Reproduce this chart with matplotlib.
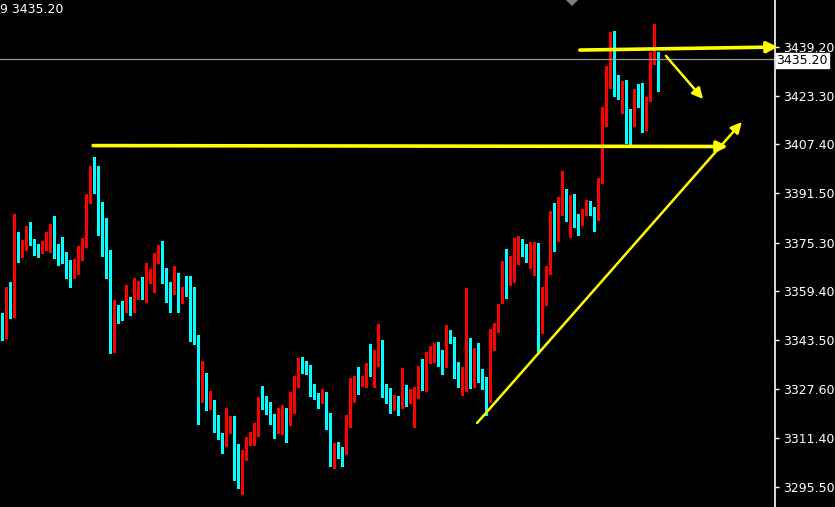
import matplotlib
matplotlib.use("Agg")
import matplotlib.pyplot as plt
from matplotlib.patches import Polygon

# hourly candles (oldest first)
opens = [
    3351.0, 3346.1, 3358.9, 3352.3, 3377.2, 3371.3, 3374.2, 3379.1, 3375.8, 3373.2,
    3372.9, 3372.9, 3377.5, 3380.1, 3373.6, 3370.6, 3369.6, 3368.3, 3363.8, 3365.4,
    3370.6, 3374.5, 3388.9, 3399.7, 3392.2, 3383.4, 3378.1, 3367.7, 3344.5, 3354.3,
    3354.0, 3353.3, 3357.2, 3353.3, 3358.9, 3361.8, 3359.2, 3363.4, 3362.8, 3369.3,
    3373.9, 3366.0, 3360.8, 3359.2, 3365.4, 3356.9, 3360.8, 3358.5, 3353.3, 3343.2,
    3325.5, 3332.1, 3322.6, 3323.6, 3317.7, 3312.5, 3311.5, 3314.4, 3318.0, 3305.6,
    3295.5, 3305.0, 3309.9, 3311.5, 3314.4, 3324.2, 3323.9, 3319.7, 3318.4, 3314.4,
    3317.4, 3320.0, 3318.7, 3320.3, 3328.5, 3337.6, 3333.4, 3333.1, 3326.9, 3325.9,
    3322.9, 3326.5, 3316.4, 3305.6, 3308.9, 3307.3, 3306.6, 3317.1, 3324.9, 3329.8,
    3328.8, 3329.1, 3335.0, 3333.1, 3336.7, 3343.2, 3328.5, 3326.5, 3321.3, 3324.5,
    3321.3, 3328.5, 3322.9, 3324.2, 3328.2, 3332.4, 3328.2, 3338.0, 3338.9, 3341.2,
    3339.3, 3336.7, 3345.8, 3344.5, 3333.4, 3329.5, 3332.7, 3336.3, 3329.5, 3337.3,
    3333.1, 3329.8, 3323.6, 3343.2, 3346.1, 3356.6, 3368.7, 3364.7, 3365.4, 3370.6,
    3374.5, 3373.2, 3370.0, 3374.2, 3374.9, 3345.8, 3356.2, 3365.1, 3382.4, 3378.8,
    3387.6, 3391.8, 3383.4, 3385.6, 3383.7, 3382.0, 3385.3, 3388.3, 3386.3, 3382.7,
    3395.4, 3416.3, 3427.1, 3441.2, 3425.2, 3424.8, 3426.1, 3416.0, 3414.4, 3424.2,
    3424.2, 3415.7, 3421.9, 3436.9, 3436.9,
]
highs = [
    3352.3, 3360.8, 3362.5, 3384.7, 3378.8, 3376.2, 3380.7, 3382.0, 3376.5, 3374.9,
    3375.8, 3378.8, 3381.4, 3384.0, 3374.9, 3377.2, 3372.3, 3369.6, 3370.0, 3374.2,
    3376.8, 3391.2, 3400.3, 3403.3, 3400.3, 3388.6, 3383.4, 3372.9, 3356.6, 3354.9,
    3356.2, 3361.5, 3357.6, 3363.8, 3362.8, 3364.1, 3368.7, 3366.7, 3371.9, 3374.5,
    3375.8, 3367.0, 3362.5, 3367.7, 3365.4, 3360.8, 3364.4, 3364.4, 3360.8, 3345.1,
    3336.7, 3332.7, 3326.9, 3323.9, 3319.0, 3313.1, 3321.3, 3318.7, 3318.7, 3309.5,
    3307.6, 3311.8, 3313.5, 3316.4, 3324.9, 3328.5, 3325.2, 3323.3, 3319.3, 3321.3,
    3322.3, 3321.3, 3326.5, 3331.8, 3337.6, 3338.0, 3336.7, 3335.3, 3329.1, 3326.2,
    3327.5, 3326.5, 3319.7, 3309.9, 3310.2, 3308.6, 3319.0, 3331.1, 3331.8, 3334.7,
    3331.8, 3336.0, 3342.2, 3340.2, 3348.7, 3343.5, 3329.1, 3327.8, 3325.5, 3325.2,
    3334.4, 3328.8, 3327.5, 3328.2, 3335.0, 3337.3, 3339.6, 3341.6, 3342.5, 3342.9,
    3340.2, 3348.4, 3346.8, 3344.5, 3336.3, 3334.7, 3360.5, 3344.2, 3340.9, 3342.5,
    3334.0, 3331.4, 3347.1, 3349.1, 3355.3, 3369.3, 3373.2, 3370.9, 3376.8, 3377.5,
    3376.5, 3374.9, 3375.5, 3375.5, 3375.2, 3360.8, 3367.7, 3385.6, 3388.3, 3390.2,
    3398.7, 3392.8, 3390.9, 3391.2, 3384.7, 3386.3, 3389.2, 3388.9, 3386.9, 3396.4,
    3419.6, 3433.0, 3444.1, 3444.4, 3430.1, 3428.1, 3428.4, 3419.0, 3425.5, 3427.1,
    3427.4, 3422.9, 3437.6, 3446.7, 3437.6,
]
lows = [
    3343.5, 3344.2, 3350.7, 3351.0, 3369.0, 3370.6, 3372.9, 3374.5, 3371.3, 3370.6,
    3371.9, 3372.9, 3372.3, 3370.3, 3368.0, 3368.7, 3363.8, 3360.8, 3363.8, 3365.1,
    3369.6, 3373.9, 3388.3, 3391.5, 3377.8, 3370.9, 3363.8, 3339.3, 3339.6, 3349.1,
    3350.0, 3352.7, 3351.7, 3352.7, 3356.9, 3356.9, 3355.9, 3362.1, 3359.2, 3368.7,
    3362.1, 3355.9, 3352.7, 3358.5, 3352.7, 3355.6, 3357.9, 3343.2, 3342.2, 3316.1,
    3323.3, 3320.6, 3321.0, 3313.5, 3311.2, 3306.6, 3308.9, 3313.1, 3297.8, 3295.2,
    3293.2, 3304.3, 3309.2, 3309.2, 3312.2, 3321.0, 3319.3, 3316.1, 3311.5, 3313.1,
    3312.8, 3310.2, 3315.7, 3319.7, 3328.2, 3332.7, 3332.4, 3325.2, 3324.2, 3321.3,
    3322.9, 3314.4, 3302.4, 3301.7, 3305.0, 3302.4, 3306.3, 3315.1, 3323.3, 3325.9,
    3328.5, 3328.2, 3331.8, 3328.2, 3335.0, 3324.9, 3322.9, 3319.7, 3320.6, 3319.0,
    3321.3, 3322.0, 3322.9, 3315.1, 3324.5, 3327.2, 3326.9, 3336.0, 3336.3, 3335.0,
    3332.4, 3334.7, 3342.5, 3331.1, 3328.2, 3325.5, 3326.9, 3327.8, 3328.2, 3329.8,
    3327.5, 3319.0, 3323.3, 3340.2, 3346.1, 3355.6, 3357.2, 3361.5, 3362.5, 3368.3,
    3370.9, 3369.0, 3367.0, 3364.7, 3339.3, 3345.8, 3354.9, 3365.1, 3372.6, 3375.8,
    3384.3, 3382.4, 3377.2, 3380.4, 3377.8, 3381.1, 3384.3, 3384.3, 3379.1, 3382.7,
    3394.8, 3413.4, 3425.8, 3423.2, 3422.2, 3417.6, 3407.9, 3407.5, 3413.4, 3419.6,
    3411.4, 3412.1, 3421.6, 3433.6, 3424.8,
]
closes = [
    3346.1, 3358.9, 3352.3, 3377.2, 3371.3, 3374.9, 3379.1, 3375.5, 3373.2, 3371.9,
    3374.2, 3377.8, 3380.1, 3373.2, 3370.3, 3369.3, 3368.0, 3363.8, 3365.7, 3371.3,
    3374.9, 3389.2, 3399.7, 3391.8, 3383.0, 3377.8, 3367.4, 3344.5, 3354.0, 3353.6,
    3353.3, 3357.2, 3352.3, 3359.2, 3361.8, 3359.2, 3363.8, 3364.1, 3369.6, 3373.9,
    3365.7, 3360.8, 3359.2, 3365.4, 3356.6, 3360.8, 3358.2, 3353.0, 3342.9, 3325.5,
    3332.1, 3322.3, 3323.6, 3317.1, 3311.8, 3309.5, 3314.8, 3318.0, 3305.0, 3295.5,
    3305.6, 3310.5, 3311.8, 3314.4, 3324.2, 3323.6, 3319.7, 3318.0, 3314.4, 3317.4,
    3319.7, 3318.7, 3320.6, 3328.5, 3337.3, 3333.1, 3332.7, 3326.5, 3324.9, 3322.9,
    3326.5, 3316.1, 3305.6, 3308.9, 3306.9, 3306.6, 3317.4, 3325.2, 3329.8, 3328.8,
    3329.5, 3335.0, 3333.1, 3337.0, 3343.2, 3328.2, 3326.2, 3321.3, 3324.5, 3321.3,
    3328.5, 3322.0, 3324.5, 3327.8, 3332.4, 3328.2, 3338.0, 3339.3, 3341.9, 3339.3,
    3336.7, 3345.8, 3344.5, 3333.4, 3329.5, 3333.1, 3336.3, 3329.1, 3337.3, 3332.7,
    3329.5, 3323.6, 3343.5, 3346.5, 3354.6, 3368.7, 3364.7, 3365.7, 3374.2, 3374.5,
    3372.9, 3370.0, 3374.2, 3374.9, 3345.8, 3356.6, 3365.4, 3382.4, 3378.8, 3388.3,
    3391.8, 3383.7, 3385.6, 3383.7, 3382.0, 3385.6, 3388.3, 3386.3, 3382.7, 3395.4,
    3416.3, 3427.4, 3441.2, 3424.8, 3424.8, 3426.1, 3415.7, 3414.4, 3424.2, 3423.9,
    3415.7, 3422.2, 3436.9, 3437.6, 3435.2,
]

price_ticks = [3439.20, 3423.30, 3407.40, 3391.50, 3375.30, 3359.40, 3343.50, 3327.60, 3311.40, 3295.50]
last_price = 3435.20
header_text = "9 3435.20"

# hand-drawn lines on the chart: (start bar, start price, end bar, end price)
level_line = (22.7, 3407.0, 181.4, 3406.7)
top_line = (144.4, 3438.2, 193.9, 3439.2)
down_arrow = (165.9, 3436.3, 175.2, 3422.2)
trend_line = (118.7, 3316.4, 184.9, 3414.7)

UP = "#ff0000"
DOWN = "#00ffff"


def main():
    fig = plt.figure(figsize=(8.35, 5.07), dpi=100, facecolor="black")
    ax = fig.add_axes([0, 0, 775 / 835, 1])
    ax.set_facecolor("black")

    xs = list(range(len(closes)))
    for x, o, h, l, c in zip(xs, opens, highs, lows, closes):
        col = UP if c >= o else DOWN
        ax.vlines(x, l, h, color=col, lw=1.0, antialiased=False)
        body = max(abs(c - o), 0.33)
        ax.bar(x, body, bottom=min(o, c), width=0.75, color=col, lw=0, antialiased=False)

    ax.set_xlim(-0.575, 193.175)
    ax.set_ylim(3288.96, 3454.55)

    # current price line
    ax.axhline(last_price, color="#9a9a9a", lw=0.9)

    # drawn lines
    for (x0, y0, x1, y1), lw in [(level_line, 2.6), (top_line, 2.6), (down_arrow, 1.8), (trend_line, 1.8)]:
        ax.annotate("", xy=(x1, y1), xytext=(x0, y0), annotation_clip=False,
                    arrowprops=dict(arrowstyle="-|>", color="#ffff00", lw=lw,
                                    mutation_scale=16, shrinkA=0, shrinkB=0))

    # right price scale
    for side in ["top", "bottom", "left"]:
        ax.spines[side].set_visible(False)
    ax.spines["right"].set_color("white")
    ax.spines["right"].set_linewidth(1.2)
    ax.set_xticks([])
    ax.yaxis.tick_right()
    ax.set_yticks(price_ticks)
    ax.set_yticklabels(["%.2f" % p for p in price_ticks])
    ax.tick_params(axis="y", colors="white", length=3, width=1, pad=3, labelsize=9)

    ax.text(1.002, last_price - 0.3, "%.2f" % last_price, transform=ax.get_yaxis_transform(),
            va="center", ha="left", fontsize=9, color="black", clip_on=False,
            bbox=dict(boxstyle="square,pad=0.08", fc="white", ec="white"))

    fig.text(0.0, 0.982, header_text, color="white", fontsize=9, va="center", ha="left")

    # small shift marker at the top
    fig.patches.append(Polygon([(566 / 835, 1.0), (578 / 835, 1.0), (572 / 835, 1 - 6 / 507)],
                               closed=True, transform=fig.transFigure, fc="#7f7f7f", ec="none"))

    fig.savefig("out.png", dpi=100, facecolor="black")


if __name__ == "__main__":
    main()
